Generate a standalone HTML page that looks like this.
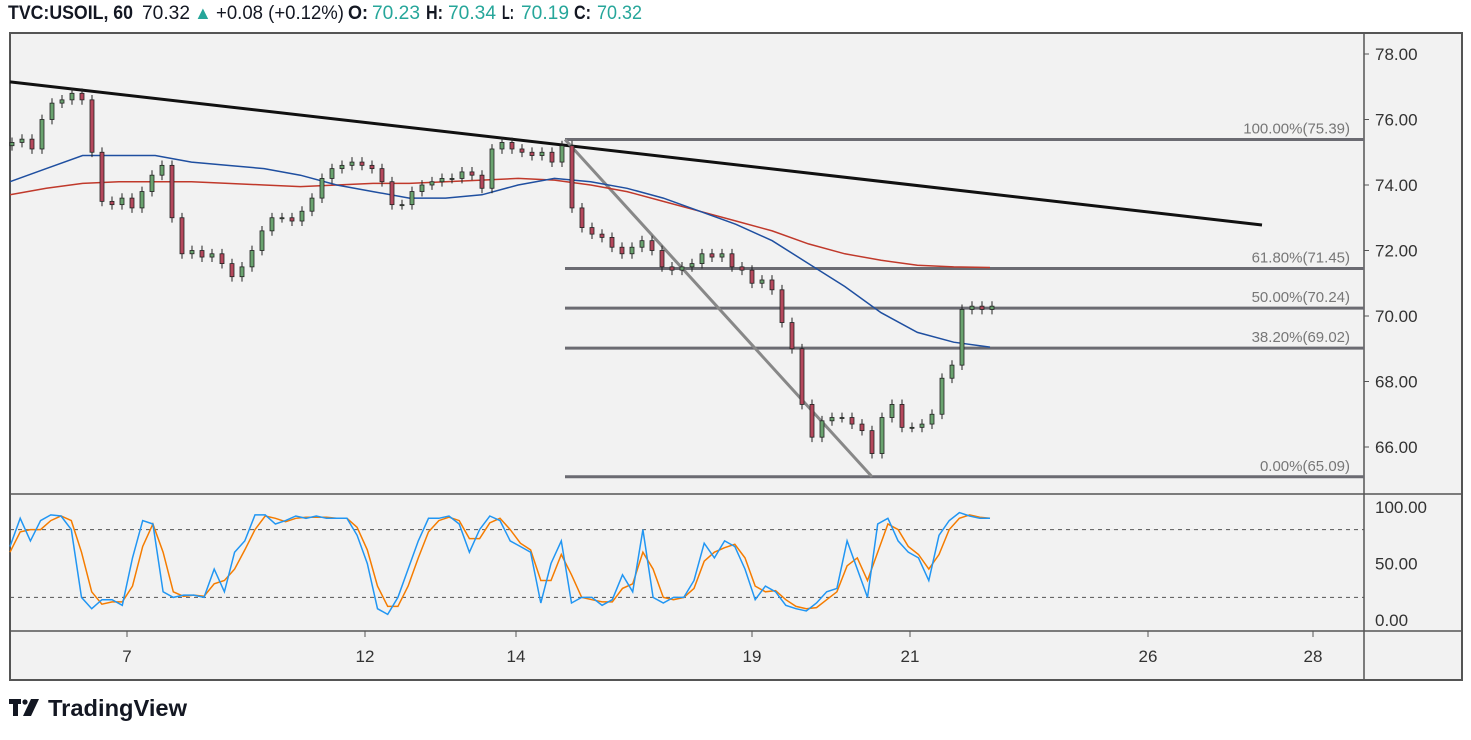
<!DOCTYPE html>
<html><head><meta charset="utf-8">
<style>
body{margin:0;background:#fff;width:1471px;height:735px;overflow:hidden;font-family:"Liberation Sans",sans-serif;}
svg text{font-family:"Liberation Sans",sans-serif;}
</style></head>
<body>
<svg id="c" width="1471" height="735" xmlns="http://www.w3.org/2000/svg">
  <rect x="0" y="0" width="1471" height="735" fill="#fff"/>
  <g font-size="19">
    <text x="8" y="19" font-weight="bold" fill="#131722" textLength="125" lengthAdjust="spacingAndGlyphs">TVC:USOIL, 60</text>
    <text x="142" y="19" fill="#131722" textLength="48" lengthAdjust="spacingAndGlyphs">70.32</text>
    <text x="194" y="19" fill="#26a69a" font-size="18">▲</text>
    <text x="216" y="19" fill="#131722" textLength="128" lengthAdjust="spacingAndGlyphs">+0.08 (+0.12%)</text>
    <text x="348" y="19" fill="#131722" font-weight="bold" textLength="20" lengthAdjust="spacingAndGlyphs">O:</text><text x="372" y="19" fill="#26a69a" textLength="48" lengthAdjust="spacingAndGlyphs">70.23</text>
    <text x="426" y="19" fill="#131722" font-weight="bold" textLength="17" lengthAdjust="spacingAndGlyphs">H:</text><text x="448" y="19" fill="#26a69a" textLength="48" lengthAdjust="spacingAndGlyphs">70.34</text>
    <text x="502" y="19" fill="#131722" font-weight="bold" textLength="12" lengthAdjust="spacingAndGlyphs">L:</text><text x="521" y="19" fill="#26a69a" textLength="48" lengthAdjust="spacingAndGlyphs">70.19</text>
    <text x="574" y="19" fill="#131722" font-weight="bold" textLength="17" lengthAdjust="spacingAndGlyphs">C:</text><text x="597" y="19" fill="#26a69a" textLength="45" lengthAdjust="spacingAndGlyphs">70.32</text>
  </g>
  <rect x="10" y="33" width="1452" height="647" fill="#f2f2f2" stroke="#555" stroke-width="2"/>
  <line x1="1364" y1="33" x2="1364" y2="680" stroke="#555" stroke-width="1.5"/>
  <line x1="10" y1="494" x2="1462" y2="494" stroke="#555" stroke-width="1.5"/>
  <line x1="10" y1="631" x2="1462" y2="631" stroke="#555" stroke-width="1.5"/>
  <g id="main"></g>
  <g id="stoch"></g>
  <g id="axes"></g>
  <g>
    <rect x="9" y="699" width="12" height="5" fill="#131722"/><rect x="13" y="699" width="5" height="17" fill="#131722"/>
    <circle cx="25" cy="702" r="2.6" fill="#131722"/><polygon points="31,699 39,699 31,716 23,716" fill="#131722"/>
    <text x="48" y="716" font-size="23" font-weight="bold" fill="#131722" textLength="139" lengthAdjust="spacingAndGlyphs">TradingView</text>
  </g>
</svg>
<script>
const closes=[75.3,75.4,75.1,76.0,76.5,76.6,76.8,76.6,75.0,73.5,73.4,73.6,73.3,73.8,74.3,74.6,73.0,71.9,72.0,71.8,71.9,71.6,71.2,71.5,72.0,72.6,73.0,73.0,72.9,73.2,73.6,74.2,74.5,74.6,74.7,74.6,74.5,74.1,73.4,73.4,73.8,74.0,74.1,74.2,74.2,74.4,74.3,73.9,75.1,75.3,75.1,75.0,74.9,75.0,74.7,75.2,73.3,72.7,72.5,72.4,72.1,71.9,72.1,72.3,72.0,71.5,71.4,71.5,71.6,71.9,71.8,71.9,71.5,71.4,71.0,71.1,70.8,69.8,69.0,67.3,66.3,66.8,66.9,66.9,66.7,66.5,65.8,66.9,67.3,66.6,66.6,66.7,67.0,68.1,68.5,70.2,70.3,70.2,70.3];
const maBlue=[74.1,74.5,74.9,74.9,74.9,74.7,74.6,74.5,74.3,74.0,73.8,73.6,73.6,73.7,74.0,74.2,74.1,73.9,73.6,73.2,72.8,72.3,71.6,70.9,70.1,69.5,69.2,69.05];
const maRed=[73.7,73.9,74.05,74.1,74.1,74.1,74.05,74.0,73.95,74.0,74.05,74.05,74.1,74.15,74.2,74.15,74.0,73.8,73.5,73.2,72.9,72.6,72.2,71.9,71.7,71.55,71.5,71.48];
const stochK=[65,90,70,88,93,92,80,20,10,18,18,13,55,88,85,25,20,22,22,20,45,25,60,70,93,93,85,88,92,90,92,90,90,90,75,50,10,5,20,45,70,90,90,92,85,60,80,92,88,70,65,60,15,50,70,15,20,20,13,18,40,25,80,20,15,20,20,35,68,55,70,65,45,18,30,25,13,10,8,15,25,28,70,45,20,85,90,70,60,55,35,75,88,95,92,90,90];
const stochD=[60,78,80,80,88,92,88,60,25,14,16,16,30,65,85,60,25,21,22,21,32,35,45,62,80,92,90,87,90,91,91,91,90,90,82,62,30,12,12,30,55,78,88,91,88,72,72,86,90,80,68,62,35,35,58,40,20,18,16,16,28,32,60,45,20,18,20,28,52,60,64,67,55,30,25,26,18,12,10,11,18,25,48,55,35,60,85,80,65,58,45,58,80,90,93,91,90];
const fibLevels=[75.39,71.45,70.24,69.02,65.09];
const fibLabels=["100.00%(75.39)","61.80%(71.45)","50.00%(70.24)","38.20%(69.02)","0.00%(65.09)"];
const priceTicks=[78,76,74,72,70,68,66];
const stochTicks=[100,50,0];
const dateLabels=["7","12","14","19","21","26","28"];
const datePos=[127,365,516,752,910,1148,1313];
const trendLine=[[0,77.15],[1,72.78]];

const NS="http://www.w3.org/2000/svg";
function el(tag,attrs,parent){const e=document.createElementNS(NS,tag);for(const k in attrs)e.setAttribute(k,attrs[k]);parent.appendChild(e);return e;}
const yP=p=>54+(78-p)*32.75;
const yS=v=>620-v*1.13;
const xC=i=>12+i*10;
const xMA=i=>10+i*(980/(maBlue.length-1));
const xSt=i=>10+i*(980/(stochK.length-1));
const main=document.getElementById('main'),st=document.getElementById('stoch'),ax=document.getElementById('axes');

const tl=el('line',{x1:10,y1:yP(trendLine[0][1]),x2:1262,y2:yP(trendLine[1][1]),stroke:'#111','stroke-width':3},main);


fibLevels.forEach((f,i)=>{
  const l=el('line',{x1:565,y1:yP(f),x2:1364,y2:yP(f),stroke:'#6b6b72','stroke-width':3},main);
  
  
  const t=el('text',{x:1350,y:yP(f)-6,'text-anchor':'end','font-size':15,fill:'#777'},main);
  
  
  t.textContent=fibLabels[i];
});
const diag=el('line',{x1:565,y1:yP(fibLevels[0]),x2:872,y2:yP(fibLevels[4]),stroke:'#888','stroke-width':3},main);


function poly(arr,xf,yf,col,name,parent,w){
  const pts=arr.map((v,i)=>xf(i).toFixed(1)+','+yf(v).toFixed(1)).join(' ');
  const p=el('polyline',{points:pts,fill:'none',stroke:col,'stroke-width':w},parent);
  
  
}
poly(maRed,xMA,yP,'#c0392b','ma-red',main,1.5);
poly(maBlue,xMA,yP,'#1f4fa0','ma-blue',main,1.5);
closes.forEach((c,i)=>{
  const o=i?closes[i-1]:c-0.1;
  const hi=Math.max(o,c)+0.15,lo=Math.min(o,c)-0.15;
  const x=xC(i),up=c>=o;
  const g=el('g',{},main);
  
  
  el('line',{x1:x,y1:yP(hi),x2:x,y2:yP(lo),stroke:'#222','stroke-width':1},g);
  const top=yP(Math.max(o,c)),h=Math.max(1,yP(Math.min(o,c))-top);
  el('rect',{x:x-2,y:top,width:4,height:h,fill:up?'#6aa36f':'#b5485c',stroke:'#222','stroke-width':0.8},g);
});
[80,20].forEach(v=>{
  const d=el('line',{x1:10,y1:yS(v),x2:1364,y2:yS(v),stroke:'#555','stroke-dasharray':'4,4','stroke-width':1},st);
  
  
});
poly(stochD,xSt,yS,'#f57c00','stoch-d-line',st,1.5);
poly(stochK,xSt,yS,'#2196f3','stoch-k-line',st,1.5);
priceTicks.forEach(p=>{
  const t=el('text',{x:1375,y:yP(p)+6,'font-size':17,fill:'#333'},ax);
  
  
  t.textContent=p.toFixed(2);
  el('line',{x1:1364,y1:yP(p),x2:1369,y2:yP(p),stroke:'#555'},ax);
});
stochTicks.forEach(v=>{
  const t=el('text',{x:1375,y:yS(v)+6,'font-size':17,fill:'#333'},ax);
  
  
  t.textContent=v.toFixed(2);
});
dateLabels.forEach((d,i)=>{
  el('line',{x1:datePos[i],y1:631,x2:datePos[i],y2:637,stroke:'#555'},ax);
  const t=el('text',{x:datePos[i],y:662,'font-size':17,fill:'#333','text-anchor':'middle'},ax);
  
  
  t.textContent=d;
});
</script>
</body></html>
